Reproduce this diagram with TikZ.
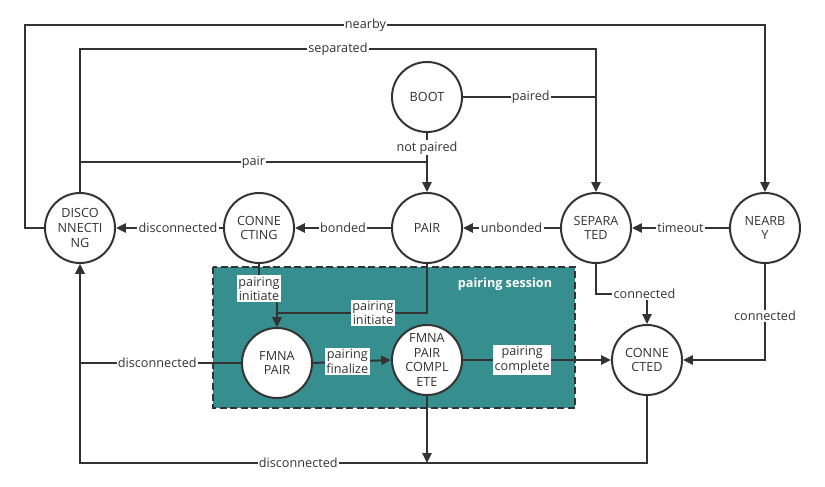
\documentclass[tikz,border=0pt]{standalone}
\usepackage{fontspec}
\setmainfont{Open Sans}
\definecolor{linecolor}{HTML}{333333}
\definecolor{sessioncolor}{HTML}{368E8E}
\usetikzlibrary{arrows.meta}

\begin{document}
\begin{tikzpicture}[x=0.025cm,y=-0.025cm,
state/.style={circle,draw=linecolor,line width=1.4pt,fill=white,minimum size=1.75cm,inner sep=0pt,align=center,text=linecolor,font=\fontsize{9}{10.5}\selectfont},
link/.style={draw=linecolor,line width=1.4pt},
edge/.style={link,-{Triangle[length=7pt,width=6.5pt]}},
lbl/.style={fill=white,inner sep=1pt,align=center,text=linecolor,font=\fontsize{9}{10.5}\selectfont}]
\useasboundingbox (0,0) rectangle (825,487);
\draw[draw=linecolor,fill=sessioncolor,line width=1.4pt,dash pattern=on 5pt off 2.5pt] (213,267) rectangle (575,408);
\node[text=white,font=\fontsize{9}{10.5}\selectfont\bfseries] (session) at (505,284) {pairing session};
\node[state] (boot) at (427,97) {BOOT};
\node[state] (pair) at (427,228) {PAIR};
\node[state] (conn) at (259,228) {CONNE\\CTING};
\node[state] (disc) at (80,228) {DISCO\\NNECTI\\NG};
\node[state] (sep) at (596,228) {SEPARA\\TED};
\node[state] (near) at (765,228) {NEARB\\Y};
\node[state] (fpair) at (277,363) {FMNA\\PAIR};
\node[state] (fdone) at (427,360) {FMNA\\PAIR\\COMPL\\ETE};
\node[state] (cted) at (647,360) {CONNE\\CTED};
\coordinate (drop) at (427,463);
\draw[edge] (disc.west) -- (25,228) -- (25,25) -- node[lbl,pos=.46] (l-nearby) {nearby} (765,25) -- (near.north);
\draw[edge] (disc.north) -- (80,49) -- node[lbl,pos=.5] (l-separated) {separated} (596,49) -- (sep.north);
\draw[link] (boot.east) -- node[lbl,pos=.51] (l-paired) {paired} (596,97);
\draw[edge] (boot.south) -- node[lbl,pos=.25] (l-notpaired) {not paired} (pair.north);
\draw[link] (80,162) -- node[lbl] (l-pair) {pair} (427,162);
\draw[edge] (pair.west) -- node[lbl] (l-bonded) {bonded} (conn.east);
\draw[edge] (conn.west) -- node[lbl,pos=.42] (l-disc1) {disconnected} (disc.east);
\draw[edge] (sep.west) -- node[lbl] (l-unbonded) {unbonded} (pair.east);
\draw[edge] (near.west) -- node[lbl] (l-timeout) {timeout} (sep.east);
\draw[edge] (sep.south) -- (596,294) -- node[lbl,pos=.95] (l-conn1) {connected} (647,294) -- (cted.north);
\draw[edge] (near.south) -- node[lbl,pos=.54] (l-conn2) {connected} (765,360) -- (cted.east);
\draw[edge] (conn.south) -- node[lbl,pos=.8] (l-init1) {pairing\\initiate} (259,295) -- (277,295) -- (fpair.north);
\draw[edge] (pair.south) -- (427,313) -- node[lbl,pos=.36] (l-init2) {pairing\\initiate} (277,313) -- (fpair.north);
\draw[edge] (fpair.east) -- node[lbl,pos=.44] (l-final) {pairing\\finalize} (fdone.west);
\draw[edge] (fdone.east) -- node[lbl,pos=.4] (l-complete) {pairing\\complete} (cted.west);
\draw[edge] (fpair.west) -- node[lbl,pos=.52] (l-disc2) {disconnected} (80,363) -- (disc.south);
\draw[edge] (fdone.south) -- (drop);
\draw[edge] (cted.south) -- (647,463) -- node[lbl,pos=.615] (l-disc3) {disconnected} (80,463) -- (disc.south);
\end{tikzpicture}
\end{document}
